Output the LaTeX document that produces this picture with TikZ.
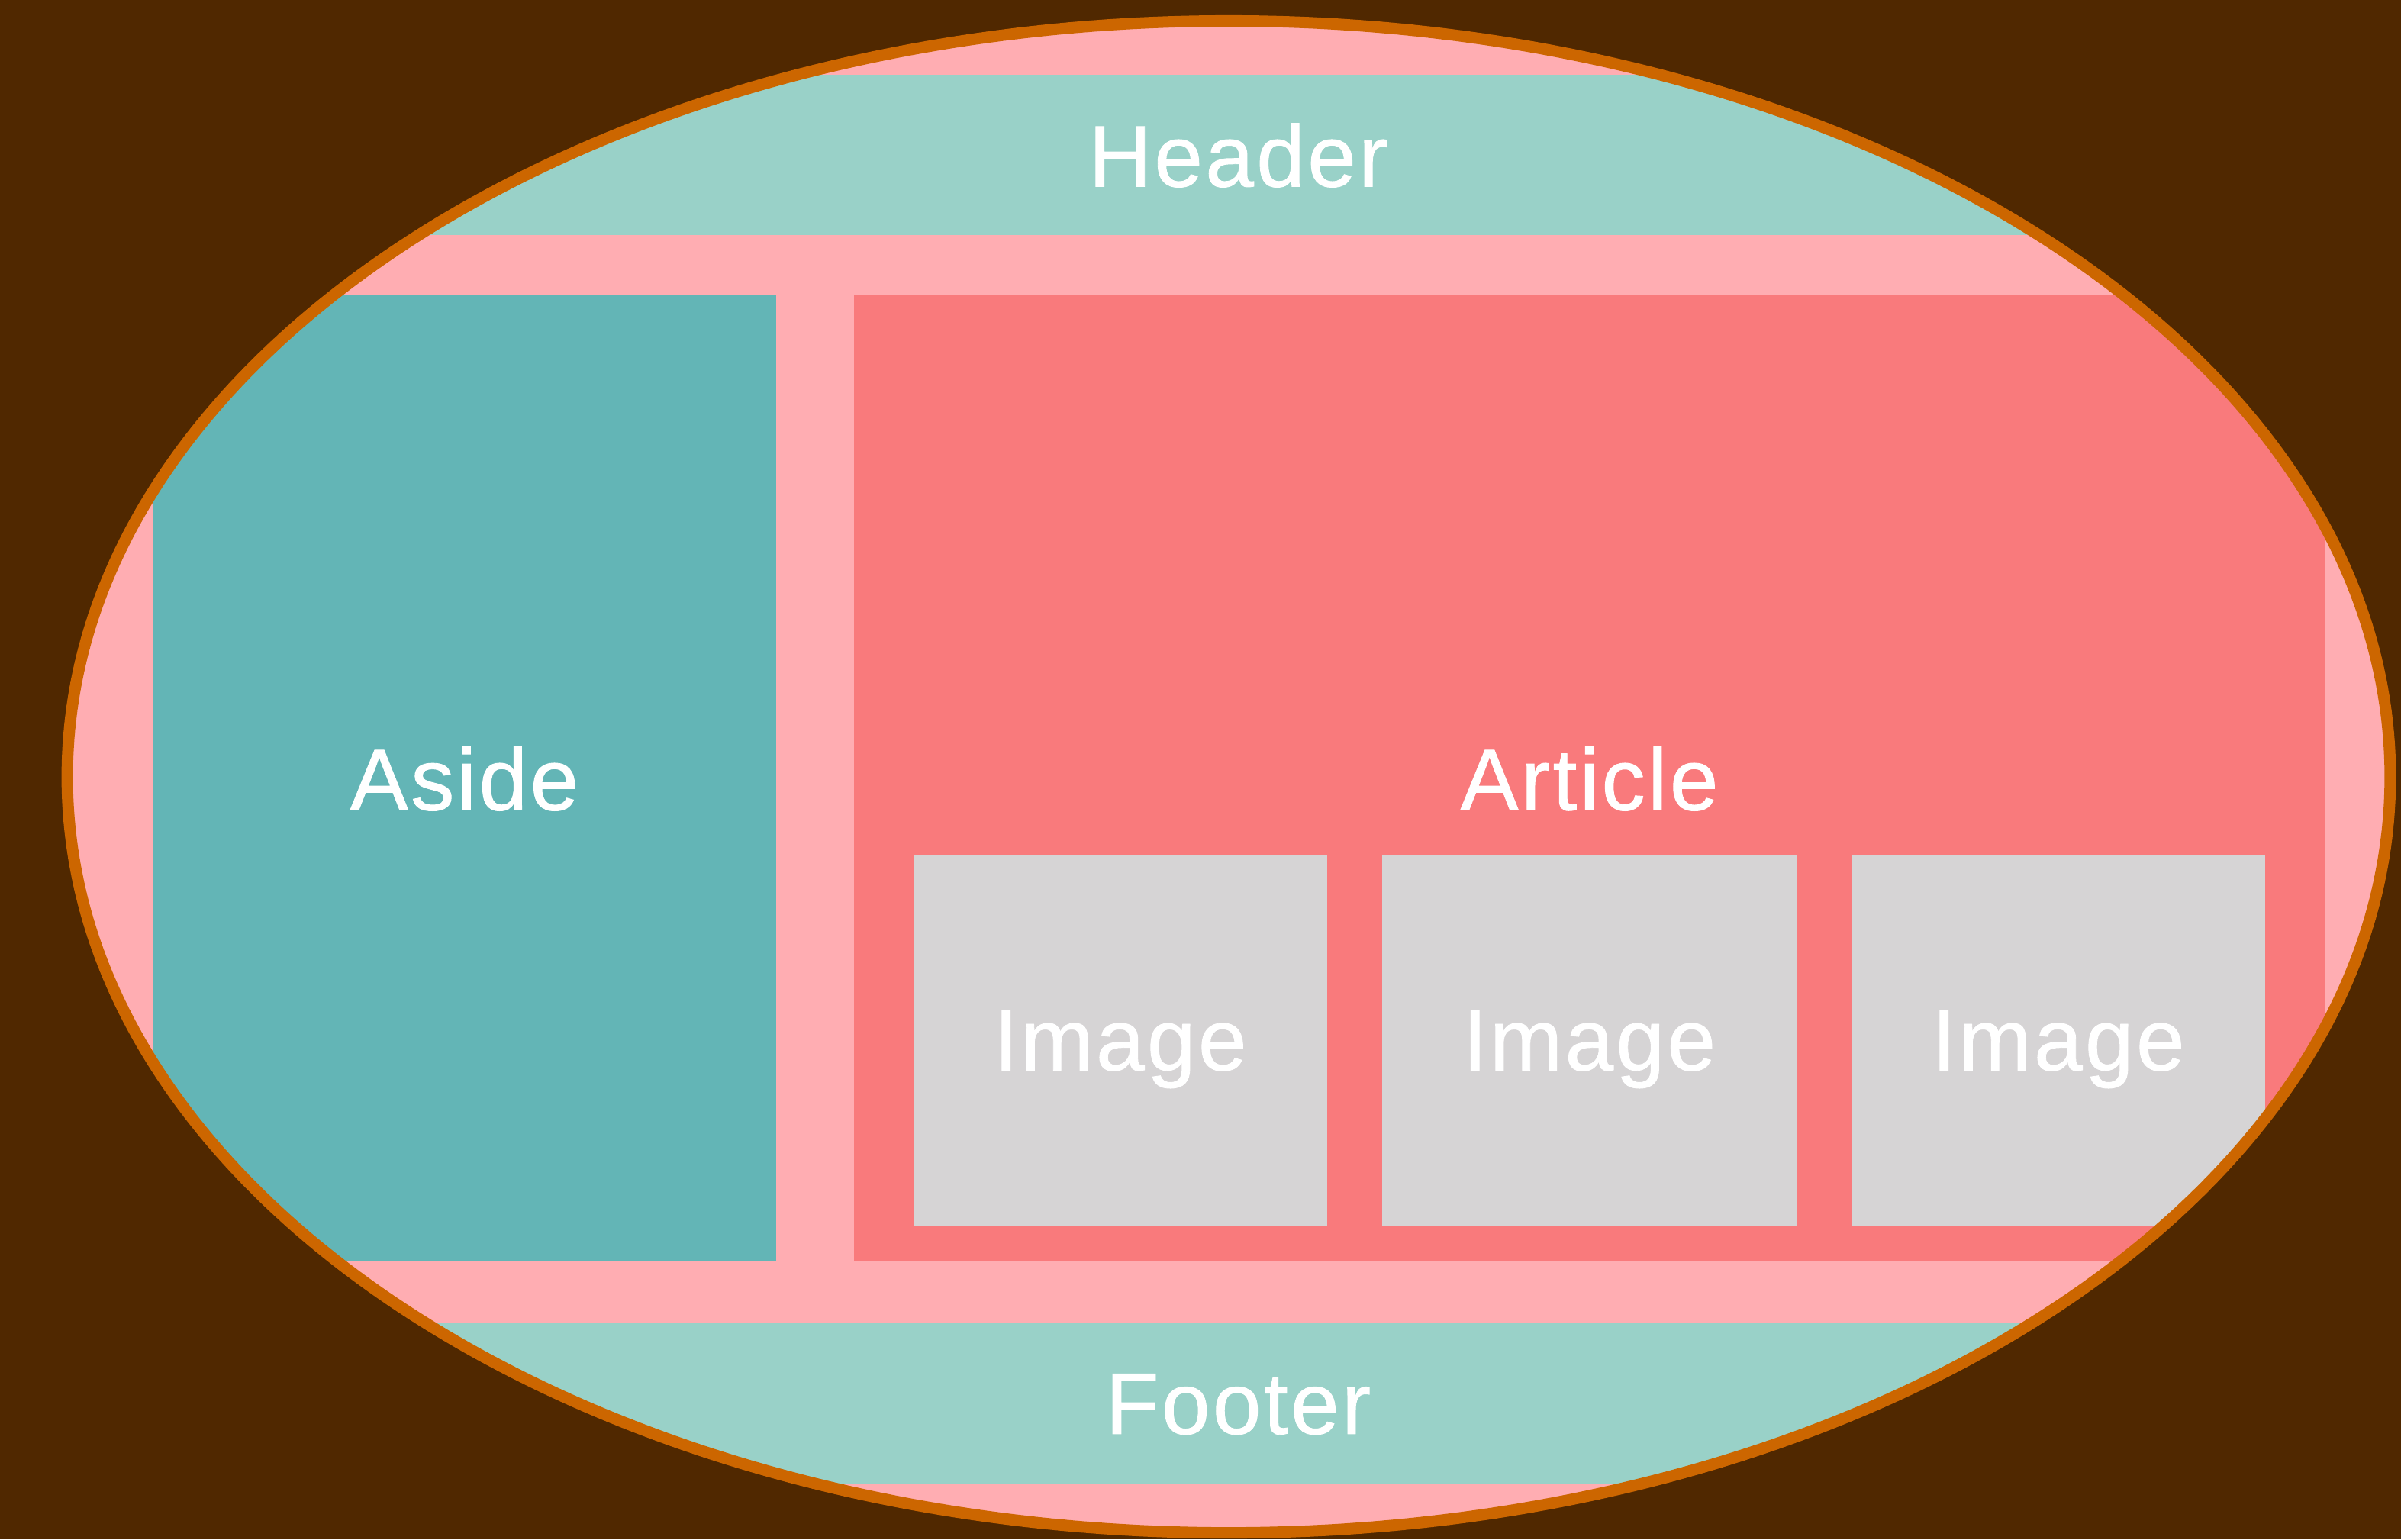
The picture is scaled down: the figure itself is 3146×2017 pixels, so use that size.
\documentclass[tikz,border=0pt]{standalone}
\usepackage{fontspec}
\setmainfont[LetterSpace=3, FakeBold=0.8]{Liberation Sans}
\definecolor{pagebrown}{HTML}{502800}
\definecolor{ringorange}{HTML}{CC6600}
\definecolor{pagepink}{HTML}{FFADB2}
\definecolor{bandteal}{HTML}{99D1C8}
\definecolor{asideteal}{HTML}{63B5B6}
\definecolor{articlered}{HTML}{F97A7C}
\definecolor{imagegray}{HTML}{D6D4D5}
\tikzset{
  region/.style={rectangle, inner sep=0pt, outer sep=0pt, text=white,
    font=\fontsize{32.5}{39}\selectfont, text depth=0pt},
  bandbox/.style={region, fill=bandteal, minimum width=28.45cm, minimum height=2.10cm},
  asidebox/.style={region, fill=asideteal, minimum width=8.17cm, minimum height=12.66cm},
  articlebox/.style={region, fill=articlered, minimum width=19.25cm, minimum height=12.66cm},
  imagebox/.style={region, fill=imagegray, minimum width=5.42cm, minimum height=4.86cm},
  frame/.style={draw=ringorange, line width=0.15cm}
}
\begin{document}
\begin{tikzpicture}[x=0.01cm, y=-0.01cm]
  % page background and fixed bounds
  \fill[pagebrown] (0,0) rectangle (3146,2017);
  \useasboundingbox (0,0) rectangle (3146,2017);

  % page layout, seen through an oval window
  \begin{scope}
    \clip (1610,1018) ellipse [x radius=15.21cm, y radius=9.90cm];
    \fill[pagepink] (0,0) rectangle (3146,2017);

    \node[bandbox] (header) at (1622.5,203) {Header};
    \node[asidebox] (aside) at (608.5,1020) {Aside};
    \node[articlebox] (article) at (2082.5,1020) {Article};
    \node[imagebox] (img1) at (1468,1363) {Image};
    \node[imagebox] (img2) at (2082.5,1363) {Image};
    \node[imagebox] (img3) at (2697,1363) {Image};
    \node[bandbox] (footer) at (1622.5,1839.5) {Footer};
  \end{scope}

  % window rim
  \draw[frame] (1610,1018) ellipse [x radius=15.21cm, y radius=9.90cm];
\end{tikzpicture}
\end{document}
